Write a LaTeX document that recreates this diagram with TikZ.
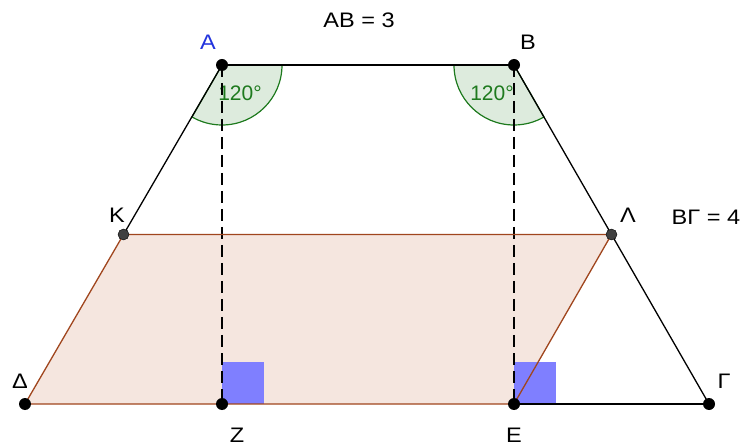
\documentclass[tikz,border=0pt]{standalone}
\usepackage{fontspec}
\setmainfont{Liberation Sans}
\definecolor{para}{HTML}{F5E6DF}
\definecolor{brownedge}{HTML}{A0461E}
\definecolor{angfill}{HTML}{DDEBDD}
\definecolor{angdraw}{HTML}{1E7A1E}
\definecolor{rightsq}{HTML}{7F7FFF}
\definecolor{ptblue}{HTML}{2233DD}
\newcommand{\wide}[1]{\scalebox{1.12}[1]{#1}}
\begin{document}
\begin{tikzpicture}[x=1pt,y=-1pt,
  pt/.style={circle,fill=black,inner sep=0pt,minimum size=12pt},
  ptg/.style={circle,fill=black!75,draw=black,inner sep=0pt,minimum size=11pt},
  lbl/.style={font=\fontsize{21}{21}\selectfont,inner sep=0pt},
  albl/.style={text=angdraw,font=\fontsize{21}{21}\selectfont,inner sep=0pt},
  edge/.style={line width=1.3pt,black},
  pedge/.style={line width=1.3pt,brownedge},
  dashl/.style={line width=1.4pt,black,dash pattern=on 12pt off 6pt},
  ang/.style={fill=angfill,draw=angdraw,line width=1.2pt}]
\useasboundingbox (0,0) rectangle (755,446);
\coordinate (A) at (222,65);
\coordinate (B) at (514,65);
\coordinate (G) at (709,404);
\coordinate (D) at (25,404);
\coordinate (Z) at (222,404);
\coordinate (E) at (514,404);
\coordinate (K) at (123.5,234.5);
\coordinate (L) at (611.5,234.5);
% parallelogram
\fill[para] (K) -- (L) -- (E) -- (D) -- cycle;
% right-angle squares
\fill[rightsq] (222,362) rectangle (264,404);
\fill[rightsq] (514,362) rectangle (556,404);
% angle sectors
\draw[ang] (A) -- ++(0:60) arc[start angle=0,end angle=120,radius=60] -- cycle;
\draw[ang] (B) -- ++(180:60) arc[start angle=180,end angle=60,radius=60] -- cycle;
\node[albl] (a1) at (240,93) {120°};
\node[albl] (a2) at (492,93) {120°};
% dashed heights
\draw[dashl] (A) -- (Z);
\draw[dashl] (B) -- (E);
% edges
\draw[edge] (A) -- (B);
\draw[edge] (A) -- (K);
\draw[edge] (B) -- (L);
\draw[edge] (L) -- (G);
\draw[edge] (E) -- (G);
\draw[pedge] (K) -- (L) -- (E) -- (D) -- cycle;
% points
\node[pt] (nA) at (A) {};
\node[pt] (nB) at (B) {};
\node[pt] (nG) at (G) {};
\node[pt] (nD) at (D) {};
\node[pt] (nZ) at (Z) {};
\node[pt] (nE) at (E) {};
\node[ptg] (nK) at (K) {};
\node[ptg] (nL) at (L) {};
% labels
\node[lbl,text=ptblue] (lA) at (208,42) {\wide{Α}};
\node[lbl] (lB) at (528,42) {\wide{Β}};
\node[lbl] (lK) at (117,215) {\wide{Κ}};
\node[lbl] (lL) at (628,215) {\wide{Λ}};
\node[lbl] (lD) at (20,381) {\wide{Δ}};
\node[lbl] (lZ) at (237,435) {\wide{Ζ}};
\node[lbl] (lE) at (514,435) {\wide{Ε}};
\node[lbl] (lG) at (724,381) {\wide{Γ}};
\node[lbl] (tAB) at (359,20) {\wide{ΑΒ = 3}};
\node[lbl] (tBG) at (706,217) {\wide{ΒΓ = 4}};
\end{tikzpicture}
\end{document}
